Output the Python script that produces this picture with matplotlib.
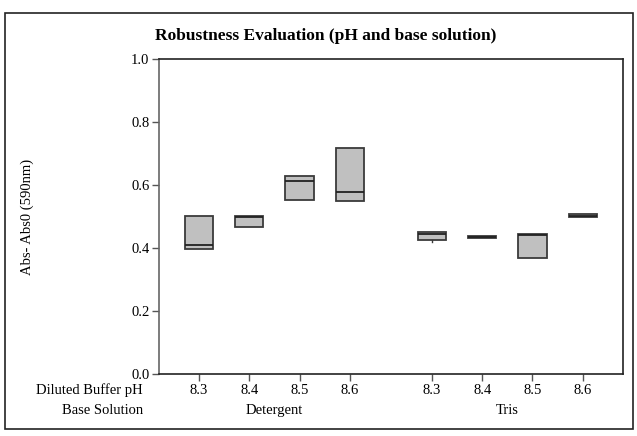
import matplotlib
matplotlib.use("Agg")
import matplotlib.pyplot as plt
from matplotlib.patches import Rectangle
from matplotlib.transforms import blended_transform_factory

# data
ph_labels = ["8.3", "8.4", "8.5", "8.6", "8.3", "8.4", "8.5", "8.6"]
base_solutions = ["Detergent", "Tris"]
q1 = [0.396, 0.468, 0.551, 0.548, 0.424, 0.432, 0.367, 0.497]
median = [0.408, 0.497, 0.612, 0.578, 0.443, 0.434, 0.441, 0.503]
q3 = [0.500, 0.503, 0.627, 0.718, 0.452, 0.437, 0.443, 0.509]
whislo = [0.396, 0.468, 0.551, 0.548, 0.418, 0.432, 0.367, 0.497]
whishi = [0.500, 0.503, 0.627, 0.718, 0.452, 0.437, 0.443, 0.509]

positions = [0, 1, 2, 3, 4.63, 5.63, 6.63, 7.63]

plt.rcParams.update({"font.family": "Liberation Serif", "font.size": 10.5})

fig = plt.figure(figsize=(6.37, 4.36), dpi=100)
fig.patches.append(
    Rectangle((5 / 637, 1 - 429 / 436), 628 / 637, 416 / 436,
              transform=fig.transFigure, fill=False, edgecolor="#222222",
              linewidth=1.2)
)
ax = fig.add_axes([159 / 637, 1 - 374 / 436, 464 / 637, 315 / 436])

stats = [
    {"q1": a, "med": m, "q3": b, "whislo": lo, "whishi": hi, "fliers": []}
    for a, m, b, lo, hi in zip(q1, median, q3, whislo, whishi)
]
ax.bxp(
    stats,
    positions=positions,
    widths=0.56,
    patch_artist=True,
    showcaps=False,
    boxprops={"facecolor": "#c0c0c0", "edgecolor": "#3a3a3a", "linewidth": 1.3},
    medianprops={"color": "#222222", "linewidth": 1.3},
    whiskerprops={"color": "#3a3a3a", "linewidth": 1.0},
)

ax.set_xlim(-0.795, 8.43)
ax.set_ylim(0, 1.0)
ax.set_yticks([0, 0.2, 0.4, 0.6, 0.8, 1.0])
ax.set_yticklabels(["0.0", "0.2", "0.4", "0.6", "0.8", "1.0"])
ax.set_xticks(positions)
ax.set_xticklabels(ph_labels)
ax.tick_params(axis="both", direction="out", length=5, width=1, color="#555555",
               pad=2)
for side in ["top", "right", "bottom"]:
    ax.spines[side].set_color("#222222")
    ax.spines[side].set_linewidth(1.2)
ax.spines["left"].set_color("#666666")
ax.spines["left"].set_linewidth(1.2)

ax.set_ylabel("Abs- Abs0 (590nm)", labelpad=0)
ax.yaxis.set_label_coords(-0.27, 0.5)
ax.set_title("Robustness Evaluation (pH and base solution)", fontweight="bold",
             fontsize=12.5, x=0.36, pad=14)

# row labels under the axis
fig.text(143 / 637, 1 - 390 / 436, "Diluted Buffer pH", ha="right", va="center")
fig.text(143 / 637, 1 - 410 / 436, "Base Solution", ha="right", va="center")
row_trans = blended_transform_factory(ax.transData, fig.transFigure)
group_centers = [sum(positions[:4]) / 4, sum(positions[4:]) / 4]
for name, xc in zip(base_solutions, group_centers):
    ax.text(xc, 1 - 410 / 436, name, ha="center", va="center",
            transform=row_trans)

fig.savefig("out.png", dpi=100)
